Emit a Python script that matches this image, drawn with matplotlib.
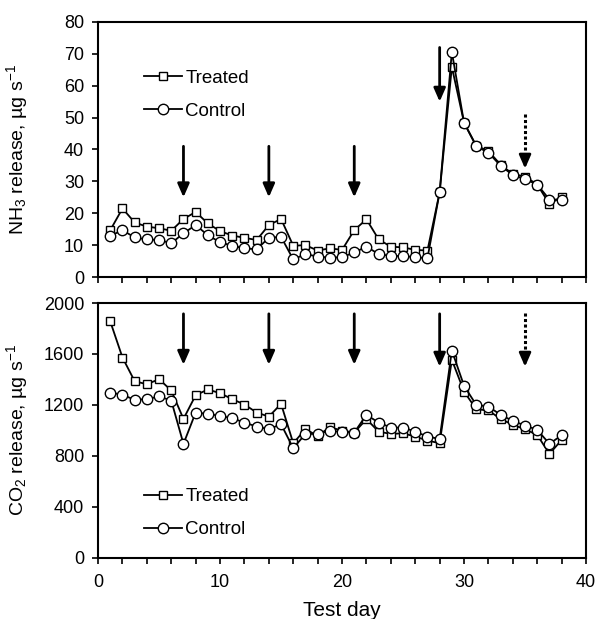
import numpy as np
import matplotlib
matplotlib.use('Agg')
import matplotlib.pyplot as plt

plt.rcParams['font.family'] = ['Liberation Sans', 'DejaVu Sans']
plt.rcParams['mathtext.fontset'] = 'custom'
plt.rcParams['mathtext.rm'] = 'Liberation Sans'
plt.rcParams['mathtext.it'] = 'Liberation Sans:italic'

days = list(range(1, 39))

# NH3 release, ug/s
nh3_treated = [14.7, 21.5, 17.1, 15.8, 15.3, 14.5, 18.2, 20.4, 16.8, 14.4,
               13.0, 12.3, 11.6, 16.3, 18.2, 9.8, 10.0, 8.3, 9.0, 8.5,
               14.7, 18.1, 11.8, 9.5, 9.3, 8.5, 8.3, 26.6, 65.9, 48.4,
               41.2, 39.5, 35.2, 32.3, 31.5, 29.0, 22.9, 25.2]
nh3_control = [12.9, 14.7, 12.4, 11.8, 11.6, 10.6, 13.7, 16.3, 13.1, 10.9,
               9.8, 9.0, 8.7, 12.3, 12.6, 5.5, 7.2, 6.4, 6.1, 6.2,
               7.7, 9.5, 7.2, 6.6, 6.6, 6.2, 5.9, 26.6, 70.6, 48.4,
               41.0, 39.0, 34.9, 32.0, 30.7, 29.0, 24.3, 24.3]

# CO2 release, ug/s
co2_treated = [1855, 1572, 1386, 1362, 1402, 1313, 1090, 1276, 1321, 1292,
               1245, 1203, 1140, 1108, 1208, 899, 1009, 957, 1025, 998,
               983, 1088, 990, 972, 977, 951, 920, 899, 1554, 1305,
               1166, 1156, 1090, 1043, 1009, 964, 815, 925]
co2_control = [1297, 1279, 1240, 1245, 1266, 1234, 894, 1140, 1129, 1114,
               1095, 1061, 1030, 1009, 1048, 860, 972, 972, 998, 987,
               983, 1122, 1061, 1022, 1022, 990, 951, 933, 1627, 1350,
               1200, 1187, 1122, 1074, 1038, 1004, 894, 962]

# arrows: day, start, tip, dotted?
arrow_days = [7, 14, 21, 28, 35]
arrow_dotted = [False, False, False, False, True]
nh3_arrow_top = [41, 41, 41, 72, 51]
nh3_arrow_tip = [25, 25, 25, 55, 34]
co2_arrow_top = [1915, 1915, 1915, 1915, 1925]
co2_arrow_tip = [1515, 1515, 1515, 1500, 1500]

fig = plt.figure(figsize=(5.98, 6.19), dpi=100)
ax1 = fig.add_axes([0.164, 0.5525, 0.816, 0.412])
ax2 = fig.add_axes([0.164, 0.099, 0.816, 0.4115])


def draw(ax, tr, co, tops, tips, head):
    ax.plot(days, tr, color='black', lw=1.3, marker='s', ms=6,
            mfc='white', mec='black', mew=1.0, label='Treated', zorder=3)
    ax.plot(days, co, color='black', lw=1.3, marker='o', ms=7.5,
            mfc='white', mec='black', mew=1.0, label='Control', zorder=4)
    for d, t0, t1, dot in zip(arrow_days, tops, tips, arrow_dotted):
        if dot:
            # dotted shaft, solid head
            ax.plot([d, d], [t0, t1 + head], color='black', lw=2.2,
                    ls=(0, (1, 0.8)), zorder=5)
            ax.annotate('', xy=(d, t1), xytext=(d, t1 + head),
                        arrowprops=dict(arrowstyle='-|>,head_width=0.35,head_length=0.8',
                                        lw=2, color='black',
                                        shrinkA=0, shrinkB=0), zorder=5)
        else:
            ax.annotate('', xy=(d, t1), xytext=(d, t0),
                        arrowprops=dict(arrowstyle='-|>,head_width=0.35,head_length=0.8',
                                        lw=2, color='black',
                                        shrinkA=0, shrinkB=0), zorder=5)
    ax.set_xlim(0, 40)
    ax.set_xticks(np.arange(0, 41, 2))
    ax.tick_params(direction='out', length=4.5, width=1.2, labelsize=13,
                   top=False, right=False)
    ax.tick_params(axis='x', pad=7)
    ax.tick_params(axis='y', pad=5.5)
    for s in ax.spines.values():
        s.set_linewidth(1.5)


draw(ax1, nh3_treated, nh3_control, nh3_arrow_top, nh3_arrow_tip, 4)
ax1.set_ylim(0, 80)
ax1.set_yticks(range(0, 81, 10))
ax1.set_xticklabels([])
ax1.set_ylabel(r'NH$_3$ release, µg s$^{-1}$', fontsize=14)
ax1.yaxis.set_label_coords(-0.14, 0.5)
ax1.legend(loc='upper left', bbox_to_anchor=(0.06, 0.88), frameon=False,
           fontsize=13.5, handlelength=2.0, handletextpad=0.2, labelspacing=0.85)

draw(ax2, co2_treated, co2_control, co2_arrow_top, co2_arrow_tip, 100)
ax2.set_ylim(0, 2000)
ax2.set_yticks(range(0, 2001, 400))
ax2.set_xticklabels([str(x) if x % 10 == 0 else '' for x in range(0, 41, 2)])
ax2.set_ylabel(r'CO$_2$ release, µg s$^{-1}$', fontsize=14)
ax2.yaxis.set_label_coords(-0.14, 0.5)
ax2.set_xlabel('Test day', fontsize=15)
ax2.xaxis.set_label_coords(0.5, -0.168)
ax2.legend(loc='upper left', bbox_to_anchor=(0.06, 0.34), frameon=False,
           fontsize=13.5, handlelength=2.0, handletextpad=0.2, labelspacing=0.85)

fig.savefig('out.png', dpi=100)
